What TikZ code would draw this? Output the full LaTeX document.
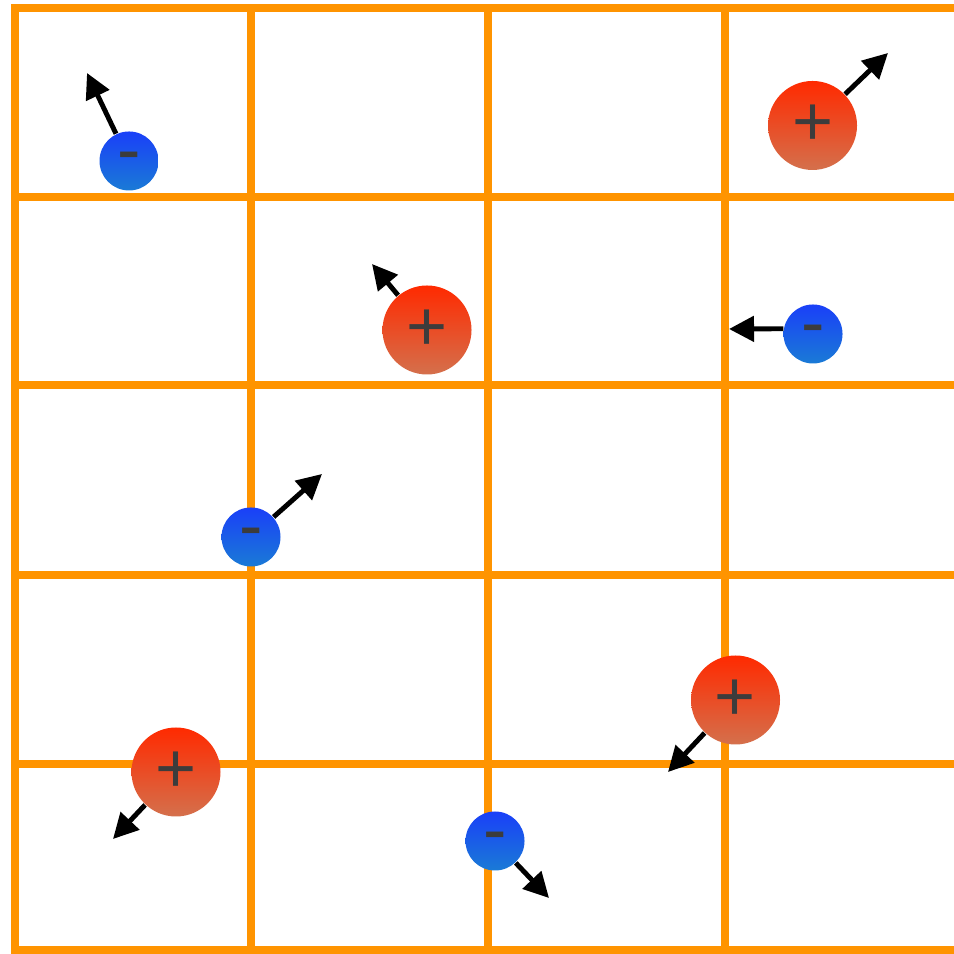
\documentclass[tikz,border=0pt]{standalone}
\usepackage{fontspec}
\usepackage{xcolor}
\usepackage{tikz}
\usetikzlibrary{
    arrows.meta,
    positioning
}
\newfontfamily\signfont{Liberation Sans}
\definecolor{gridorange}{HTML}{FF9400}
\definecolor{posttop}{HTML}{FF2A00}
\definecolor{posbottom}{HTML}{D4704C}
\definecolor{negtop}{HTML}{1A40F8}
\definecolor{negbottom}{HTML}{1A7AD6}
\definecolor{signgray}{HTML}{3C3C3C}

\begin{document}
\begin{tikzpicture}[
    gridline/.style={draw=gridorange, line width=0.075cm, line cap=rect},
    poscharge/.style={circle, inner sep=0pt, minimum size=0.89cm, top color=posttop, bottom color=posbottom, text=signgray, font=\signfont\fontsize{20}{20}\selectfont},
    negcharge/.style={circle, inner sep=0pt, minimum size=0.59cm, top color=negtop, bottom color=negbottom, text=signgray, text height=0.72em, text depth=0pt, font=\signfont\fontsize{20}{20}\selectfont},
    force/.style={draw=black, line width=1.4pt, -{Triangle[length=0.25cm, width=0.25cm]}},
]
    \useasboundingbox (0, 0) rectangle (9.53, 9.54);
    \fill[white] (0, 0) rectangle (9.53, 9.54);

    % Grid
    \foreach \x in {0.15, 2.51, 4.88, 7.25} {
        \draw[gridline] (\x, 0.04) -- (\x, 9.46);
    }
    \foreach \y in {0.04, 1.90, 3.79, 5.69, 7.57, 9.46} {
        \draw[gridline] (0.15, \y) -- (9.53, \y);
    }

    % Negative charges
    \node[negcharge] (n1) at (1.29, 7.93) {-};
    \node[negcharge] (n2) at (8.13, 6.20) {-};
    \node[negcharge] (n3) at (2.51, 4.17) {-};
    \node[negcharge] (n4) at (4.95, 1.13) {-};

    % Positive charges
    \node[poscharge] (p1) at (8.125, 8.285) {+};
    \node[poscharge] (p2) at (4.27, 6.24) {+};
    \node[poscharge] (p3) at (7.355, 2.54) {+};
    \node[poscharge] (p4) at (1.76, 1.82) {+};

    % Arrow tips
    \coordinate (n1tip) at (0.87, 8.81);
    \coordinate (n2tip) at (7.29, 6.25);
    \coordinate (n3tip) at (3.22, 4.80);
    \coordinate (n4tip) at (5.49, 0.56);
    \coordinate (p1tip) at (8.88, 9.01);
    \coordinate (p2tip) at (3.72, 6.90);
    \coordinate (p3tip) at (6.68, 1.82);
    \coordinate (p4tip) at (1.13, 1.15);

    % Forces
    \draw[force] (n1) -- (n1tip);
    \draw[force] (n2.170) -- (n2tip);
    \draw[force] (n3) -- (n3tip);
    \draw[force] (n4) -- (n4tip);
    \draw[force] (p1) -- (p1tip);
    \draw[force] (p2) -- (p2tip);
    \draw[force] (p3) -- (p3tip);
    \draw[force] (p4) -- (p4tip);

\end{tikzpicture}
\end{document}
